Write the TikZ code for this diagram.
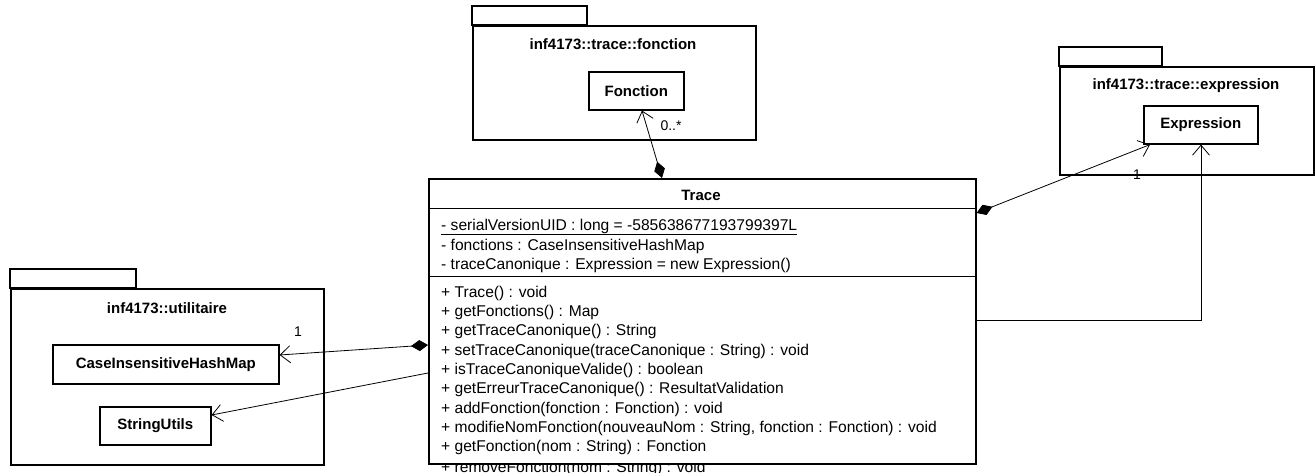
\documentclass[tikz,border=0pt]{standalone}
\usepackage{fontspec}
\setmainfont{Liberation Sans}
\usetikzlibrary{arrows.meta}

\tikzset{
	box/.style={draw, line width=1.6pt, inner sep=0pt, anchor=north west},
	cls/.style={box, font=\fontsize{15}{18}\selectfont\bfseries},
	pkgname/.style={inner sep=0pt, font=\fontsize{15}{18}\selectfont\bfseries},
	member/.style={anchor=west, inner sep=0pt, font=\fontsize{15.6}{18}\selectfont},
	mult/.style={inner sep=0pt, font=\fontsize{14}{16}\selectfont},
	comp/.style={line width=0.8pt, {Diamond[length=17pt,width=11pt]}-{Straight Barb[length=10pt,width=17pt]}},
	dep/.style={line width=0.8pt, -{Straight Barb[length=10pt,width=17pt]}}
}
\newcommand\pkgtab[3]{
	\draw[line width=1.6pt] (#1.north west) rectangle ++(#2,-#3);
	}

\begin{document}
\begin{tikzpicture}[x=1pt, y=-1pt]

			\useasboundingbox (0,0) rectangle (1315,473);
			\clip (0,0) rectangle (1315,473);

			% packages
			\node[box, minimum width=283pt, minimum height=114pt] (pkgfonction) at (472,25) {};
			\pkgtab{pkgfonction}{115}{19}
			\node[pkgname] (lblfonction) at (613,44) {inf4173::trace::fonction};
			\node[cls, minimum width=95pt, minimum height=38pt] (fonction) at (588,71) {Fonction};

			\node[box, minimum width=254pt, minimum height=108pt] (pkgexpression) at (1059,66) {};
			\pkgtab{pkgexpression}{103}{19}
			\node[pkgname] (lblexpression) at (1186,86) {inf4173::trace::expression};
			\node[cls, minimum width=114pt, minimum height=38pt] (expression) at (1143,105) {Expression};

			\node[box, minimum width=313pt, minimum height=176pt] (pkgutil) at (10,288) {};
			\pkgtab{pkgutil}{126}{19}
			\node[pkgname] (lblutil) at (167,308) {inf4173::utilitaire};
			\node[cls, minimum width=226pt, minimum height=39pt] (hashmap) at (52,344) {CaseInsensitiveHashMap};
			\node[cls, minimum width=111pt, minimum height=38pt] (stringutils) at (99,406) {StringUtils};

			% class Trace
			\node[member] (m10) at (441,468) {+ removeFonction(nom : String) : void};
			\node[box, fill=white, minimum width=547pt, minimum height=285pt] (trace) at (428,178) {};
			\node[pkgname] (title) at (701,195) {Trace};
			\draw[line width=1pt] ([yshift=-31pt]trace.north west) -- ([yshift=-31pt]trace.north east);
			\draw[line width=1pt] ([yshift=-99pt]trace.north west) -- ([yshift=-99pt]trace.north east);

			\node[member] (a1) at (441,227) {\underline{- serialVersionUID : long = -585638677193799397L}};
			\node[member] (a2) at (441,246) {- fonctions : CaseInsensitiveHashMap};
			\node[member] (a3) at (441,265) {- traceCanonique : Expression = new Expression()};

			\node[member] (m1) at (441,293) {+ Trace() : void};
			\node[member] (m2) at (441,312) {+ getFonctions() : Map};
			\node[member] (m3) at (441,331) {+ getTraceCanonique() : String};
			\node[member] (m4) at (441,351) {+ setTraceCanonique(traceCanonique : String) : void};
			\node[member] (m5) at (441,370) {+ isTraceCanoniqueValide() : boolean};
			\node[member] (m6) at (441,389) {+ getErreurTraceCanonique() : ResultatValidation};
			\node[member] (m7) at (441,409) {+ addFonction(fonction : Fonction) : void};
			\node[member] (m8) at (441,428) {+ modifieNomFonction(nouveauNom : String, fonction : Fonction) : void};
			\node[member] (m9) at (441,447) {+ getFonction(nom : String) : Fonction};

			% links
			\draw[comp] ([xshift=234pt]trace.north west) -- ([xshift=54pt]fonction.south west);
			\node[mult] (nfonction) at (671,126) {0..*};

			\draw[comp] ([yshift=-35pt]trace.north east) -- ([xshift=7pt]expression.south west);
			\node[mult] (nexpression) at (1137,175) {1};
			\draw[dep] ([yshift=-142pt]trace.north east) -| ([xshift=58pt]expression.south west);

			\draw[comp] ([yshift=-167pt]trace.north west) -- ([yshift=-11pt]hashmap.north east);
			\node[mult] (nhashmap) at (298,332) {1};
			\draw[dep] ([yshift=-195pt]trace.north west) -- ([yshift=-9pt]stringutils.north east);

		\end{tikzpicture}
\end{document}
